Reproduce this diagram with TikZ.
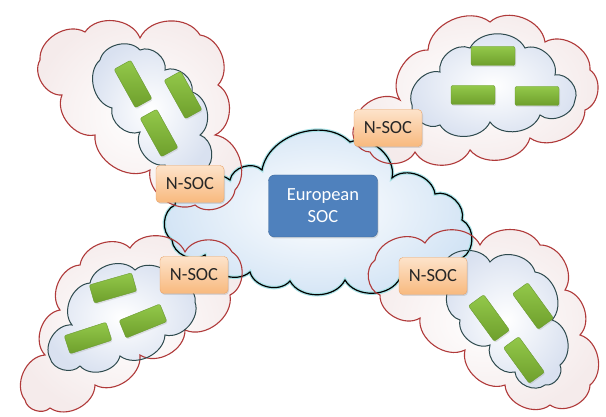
\documentclass[tikz,border=0pt]{standalone}
\usepackage{fontspec}
\setmainfont{Carlito}
\usetikzlibrary{shadows}
\definecolor{cloudred}{HTML}{B03A3A}
\definecolor{redfill}{HTML}{F5EBEB}
\definecolor{innerline}{HTML}{2E4A4E}
\definecolor{innerfill}{HTML}{D9E1F0}
\definecolor{centfill}{HTML}{D3E4F5}
\definecolor{glow}{HTML}{A8E2E6}
\definecolor{eurfill}{HTML}{4F81BD}
\definecolor{eurline}{HTML}{3B679A}
\definecolor{nsoctop}{HTML}{FDE3CA}
\definecolor{nsocbot}{HTML}{F8B97E}
\definecolor{nsocline}{HTML}{E9A46A}
\definecolor{gtop}{HTML}{93C84A}
\definecolor{gbot}{HTML}{6E9F2C}
\definecolor{gline}{HTML}{6A9A30}
\newcommand\mycloud[3]{\path[#1] (#2) \foreach \px/\py in #3 { to[bend left=62] (\px,\py) } -- cycle;}
\def\TLred{85/32, 140/38, 200/35, 218/85, 215/135, 235/190, 195/205, 150/170, 95/135, 62/95, 40/60}
\def\TLin{140/50, 165/70, 192/92, 200/135, 205/170, 165/165, 140/132, 112/108, 100/60}
\def\TRred{400/100, 428/50, 490/22, 545/42, 590/70, 585/110, 530/138, 470/150, 415/152, 370/152, 355/125}
\def\TRin{440/72, 470/48, 525/48, 555/75, 575/100, 540/115, 490/122, 440/125, 412/105}
\def\BLred{45/355, 60/310, 80/265, 130/248, 185/252, 232/252, 230/295, 185/330, 140/355, 95/385, 50/408, 25/400}
\def\BLin{72/325, 90/283, 135/270, 175/285, 195/302, 165/335, 120/356, 80/366, 50/358}
\def\BRred{425/243, 480/245, 540/245, 565/290, 580/335, 590/385, 550/405, 505/385, 465/350, 420/318, 380/295, 375/260}
\def\BRin{490/262, 535/272, 552/320, 560/365, 545/385, 515/372, 490/345, 460/320, 452/285, 445/262}
\def\CENT{262/170, 350/142, 392/178, 435/194, 462/220, 462/258, 400/278, 345/280, 290/281, 250/272, 205/255, 172/240, 175/205, 230/180}
\begin{document}
\begin{tikzpicture}[x=1pt,y=-1pt,
  redfillst/.style={shade, inner color=white, outer color=redfill},
  infillst/.style={shade, inner color=white, outer color=innerfill},
  redline/.style={draw=cloudred, line width=1.1pt},
  inline/.style={draw=innerline, line width=1pt},
  nsoc/.style={draw=nsocline, rounded corners=4pt, top color=nsoctop, bottom color=nsocbot,
    minimum width=68pt, minimum height=37pt, inner sep=0pt, font=\fontsize{18.5}{20}\selectfont,
    text=black!85, drop shadow={opacity=0.25, shadow xshift=1pt, shadow yshift=-1.5pt}},
  eur/.style={draw=eurline, rounded corners=6pt, fill=eurfill, minimum width=109pt,
    minimum height=62pt, inner sep=0pt, align=center, text=white,
    font=\fontsize{18.5}{22}\selectfont, drop shadow={opacity=0.25, shadow xshift=1pt, shadow yshift=-1.5pt}},
  bar/.style={draw=gline, line width=0.4pt, rounded corners=2pt, top color=gtop, bottom color=gbot,
    minimum width=44pt, minimum height=19pt, inner sep=0pt,
    drop shadow={opacity=0.2, shadow xshift=1pt, shadow yshift=-1.5pt}}]
\useasboundingbox[fill=white] (0,0) rectangle (606,417);
% fills
\mycloud{redfillst}{40,60}{\TLred}
\mycloud{redfillst}{355,125}{\TRred}
\mycloud{redfillst}{25,400}{\BLred}
\mycloud{redfillst}{375,260}{\BRred}
\mycloud{shade, inner color=white, outer color=centfill}{230,180}{\CENT}
\mycloud{infillst}{100,60}{\TLin}
\mycloud{infillst}{412,105}{\TRin}
\mycloud{infillst}{50,358}{\BLin}
\mycloud{infillst}{445,262}{\BRin}
% outlines
\mycloud{draw=glow, line width=3.5pt}{230,180}{\CENT}
\mycloud{draw=black, line width=1.2pt}{230,180}{\CENT}
\mycloud{redline}{40,60}{\TLred}
\mycloud{redline}{355,125}{\TRred}
\mycloud{redline}{25,400}{\BLred}
\mycloud{redline}{375,260}{\BRred}
\mycloud{inline}{100,60}{\TLin}
\mycloud{inline}{412,105}{\TRin}
\mycloud{inline}{50,358}{\BLin}
\mycloud{inline}{445,262}{\BRin}
% green bars
\node[bar, rotate=-61] (tl1) at (133,84) {};
\node[bar, rotate=-61] (tl2) at (183,95) {};
\node[bar, rotate=-61] (tl3) at (159,133) {};
\node[bar] (tr1) at (493,56) {};
\node[bar] (tr2) at (473,95) {};
\node[bar] (tr3) at (537,96) {};
\node[bar, rotate=16] (bl1) at (113,288) {};
\node[bar, rotate=18] (bl2) at (88,338) {};
\node[bar, rotate=22] (bl3) at (143,321) {};
\node[bar, rotate=-54] (br1) at (489,318) {};
\node[bar, rotate=-54] (br2) at (533,306) {};
\node[bar, rotate=-54] (br3) at (524,360) {};
% boxes
\node[eur] (eu) at (323,206) {European\\SOC};
\node[nsoc] (ntl) at (190,184) {N-SOC};
\node[nsoc] (ntr) at (388,128) {N-SOC};
\node[nsoc] (nbl) at (194,275) {N-SOC};
\node[nsoc] (nbr) at (433,276) {N-SOC};
\end{tikzpicture}
\end{document}
